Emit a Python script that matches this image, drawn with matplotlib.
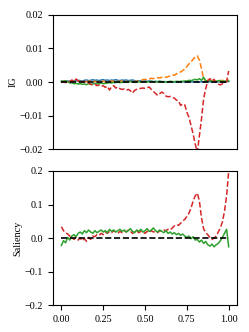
import numpy as np
import matplotlib
matplotlib.use('Agg')
import matplotlib.pyplot as plt

plt.rcParams['font.family'] = ['Liberation Serif', 'DejaVu Serif']
plt.rcParams['font.size'] = 7.3
plt.rcParams['axes.unicode_minus'] = True

# shared x grid (relative position along the sequence)
x = np.linspace(0, 1, 81)

# IG attributions (units of 1e-3)
ig_blue = [0.1, 0.2, 0.1, 0.3, 0.2, 0.3, 0.4, 0.3, 0.5, 0.4,
           0.3, 0.5, 0.6, 0.4, 0.5, 0.7, 0.5, 0.6, 0.4, 0.6,
           0.7, 0.5, 0.6, 0.4, 0.6, 0.5, 0.7, 0.5, 0.4, 0.6,
           0.5, 0.6, 0.4, 0.5, 0.6, 0.4, 0.3, 0.4, 0.3, 0.2,
           0.3, 0.2, 0.3, 0.2, 0.1, 0.2, 0.1, 0.2, 0.1, 0.1,
           0.1, 0.0, 0.1, 0.1, 0.0, 0.1, 0.1, 0.0, 0.1, 0.0,
           0.1, 0.0, 0.1, 0.0, 0.1, 0.0, 0.0, 0.1, 0.0, 0.1,
           0.0, 0.1, 0.0, 0.1, 0.0, 0.1, 0.0, 0.1, 0.0, 0.1, 0.2]
ig_orange = [0.2, 0.1, 0.2, 0.3, 0.2, 0.1, 0.2, 0.2, 0.3, 0.1,
             0.2, 0.2, 0.1, 0.2, 0.3, 0.2, 0.2, 0.1, 0.2, 0.3,
             0.2, 0.1, 0.2, 0.2, 0.3, 0.2, 0.1, 0.2, 0.2, 0.3,
             0.2, 0.2, 0.1, 0.2, 0.3, 0.2, 0.2, 0.3, 0.5, 0.7,
             0.8, 0.6, 0.9, 1.1, 1.0, 1.2, 1.3, 1.2, 1.4, 1.5,
             1.4, 1.6, 1.8, 2.1, 2.0, 2.4, 2.8, 3.0, 3.4, 3.8,
             4.6, 5.4, 6.0, 6.8, 7.4, 7.8, 6.5, 4.0, 1.0, 0.3,
             0.5, 0.2, 0.4, 0.1, 0.3, 0.2, 0.5, 0.4, 0.6, 0.5, 0.6]
ig_green = [0.3, 0.2, 0.4, 0.1, -0.3, -0.2, -0.5, -0.4, -0.6, -0.5,
            -0.7, -0.6, -0.8, -0.5, -0.7, -0.6, -0.4, -0.6, -0.5, -0.3,
            -0.5, -0.4, -0.3, -0.2, -0.3, -0.1, -0.2, 0.0, -0.2, -0.1,
            0.0, -0.1, 0.0, 0.1, 0.0, -0.1, 0.0, 0.1, 0.0, 0.1,
            0.1, 0.0, 0.1, 0.2, 0.1, 0.0, 0.1, 0.2, 0.1, 0.1,
            0.0, 0.1, 0.2, 0.1, 0.1, 0.2, 0.1, 0.2, 0.2, 0.3,
            0.3, 0.5, 0.4, 0.6, 0.8, 0.6, 1.0, 0.5, 1.4, 0.4,
            0.3, 0.5, 0.2, 0.3, 0.2, 0.4, 0.3, 0.2, 0.3, 0.2, 0.3]
ig_red = [0.0, 0.1, -0.2, 0.3, 0.1, 0.6, 0.2, 0.9, 0.3, 0.6,
          -0.1, 0.2, -0.4, -0.2, -0.7, -0.9, -0.6, -1.1, -0.9, -1.3,
          -1.1, -1.6, -1.3, -2.4, -1.4, -1.1, -1.8, -1.5, -2.0, -2.2,
          -2.1, -2.5, -2.2, -2.6, -3.3, -2.5, -2.2, -2.0, -1.9, -1.8,
          -1.9, -1.7, -1.5, -2.2, -2.8, -3.4, -4.0, -3.5, -3.0, -3.4,
          -4.2, -4.4, -4.3, -4.6, -4.8, -5.4, -5.6, -7.0, -6.5, -6.8,
          -9.0, -10.5, -13.0, -15.5, -18.5, -21.0, -16.0, -11.0, -5.0, -2.0,
          0.4, 1.0, 0.3, 0.8, -0.3, -0.6, -0.9, -0.5, -0.2, 0.1, 3.3]

# saliency attributions
sal_red = [0.034, 0.022, 0.016, 0.012, 0.006, 0.002, -0.004, 0.003, -0.006, 0.000,
           -0.008, -0.002, -0.010, 0.002, -0.004, 0.006, 0.004, 0.010, 0.008, 0.014,
           0.010, 0.018, 0.014, 0.020, 0.016, 0.022, 0.018, 0.014, 0.020, 0.016,
           0.022, 0.018, 0.024, 0.020, 0.014, 0.018, 0.022, 0.016, 0.020, 0.018,
           0.014, 0.020, 0.016, 0.022, 0.018, 0.020, 0.016, 0.022, 0.020, 0.024,
           0.022, 0.026, 0.024, 0.030, 0.036, 0.040, 0.038, 0.044, 0.050, 0.056,
           0.064, 0.074, 0.090, 0.110, 0.126, 0.134, 0.110, 0.060, 0.028, 0.016,
           0.010, 0.002, -0.004, 0.000, 0.006, 0.018, 0.030, 0.048, 0.080, 0.125, 0.200]
sal_green = [-0.022, -0.008, -0.014, 0.002, -0.006, 0.006, 0.010, 0.004, 0.014, 0.018,
             0.012, 0.022, 0.016, 0.024, 0.018, 0.014, 0.022, 0.016, 0.020, 0.024,
             0.018, 0.022, 0.016, 0.026, 0.020, 0.024, 0.018, 0.022, 0.026, 0.020,
             0.024, 0.018, 0.022, 0.028, 0.020, 0.016, 0.024, 0.020, 0.026, 0.018,
             0.022, 0.028, 0.020, 0.024, 0.030, 0.022, 0.018, 0.024, 0.020, 0.016,
             0.022, 0.014, 0.018, 0.012, 0.016, 0.010, 0.014, 0.008, 0.012, 0.006,
             0.002, 0.006, -0.002, 0.004, -0.006, -0.004, -0.012, -0.006, -0.016, -0.010,
             -0.020, -0.024, -0.018, -0.026, -0.020, -0.016, -0.008, 0.002, 0.014, 0.026, -0.026]

fig = plt.figure(figsize=(2.49, 3.32), dpi=100)
ax1 = fig.add_axes([0.213, 0.551, 0.739, 0.404])
ax2 = fig.add_axes([0.213, 0.081, 0.739, 0.404], sharex=ax1)

# top: integrated gradients
ax1.plot(x, np.array(ig_blue) * 1e-3, color='tab:blue', lw=1.1)
ax1.plot(x, np.array(ig_orange) * 1e-3, color='tab:orange', lw=1.1, ls='--')
ax1.plot(x, np.array(ig_green) * 1e-3, color='tab:green', lw=1.1)
ax1.plot(x, np.array(ig_red) * 1e-3, color='tab:red', lw=1.1, ls='--')
ax1.plot(x, np.zeros_like(x), color='black', lw=1.2, ls='--')
ax1.set_ylim(-0.02, 0.02)
ax1.set_yticks([-0.02, -0.01, 0.0, 0.01, 0.02])
ax1.set_ylabel('IG', labelpad=1.5)
ax1.tick_params(axis='x', bottom=False, labelbottom=False)

# bottom: saliency
ax2.plot(x, sal_red, color='tab:red', lw=1.1, ls='--')
ax2.plot(x, sal_green, color='tab:green', lw=1.1)
ax2.plot(x, np.zeros_like(x), color='black', lw=1.2, ls='--')
ax2.set_ylim(-0.2, 0.2)
ax2.set_yticks([-0.2, -0.1, 0.0, 0.1, 0.2])
ax2.set_ylabel('Saliency', labelpad=1.5)
ax2.set_xticks([0.0, 0.25, 0.5, 0.75, 1.0])
ax2.set_xticklabels(['0.00', '0.25', '0.50', '0.75', '1.00'])

fig.savefig('out.png', dpi=100)
